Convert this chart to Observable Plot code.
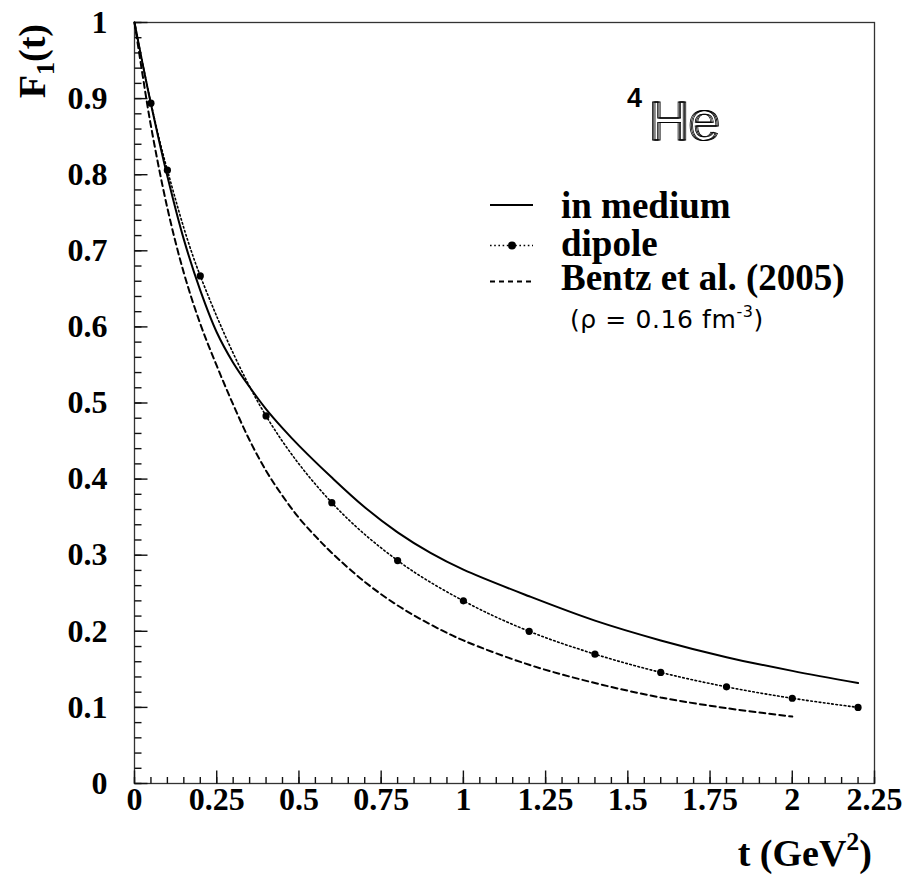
<!DOCTYPE html>
<html><head><meta charset="utf-8">
<script src="https://cdn.jsdelivr.net/npm/d3@7"></script>
<script src="https://cdn.jsdelivr.net/npm/@observablehq/plot@0.6"></script>
<style>body{margin:0;background:#fff} svg{display:block}</style>
</head><body><div id="chart"></div>
<script>
// ---- data ----
const inMediumT = [0, 0.025, 0.05, 0.1, 0.15, 0.2, 0.25, 0.3, 0.35, 0.4, 0.45, 0.5, 0.6, 0.7, 0.8, 0.9, 1.0, 1.2, 1.4, 1.6, 1.8, 2.0, 2.2];
const inMediumF = [1.0, 0.945, 0.893, 0.798, 0.715, 0.648, 0.593, 0.553, 0.521, 0.492, 0.467, 0.444, 0.402, 0.363, 0.330, 0.303, 0.281, 0.246, 0.214, 0.188, 0.166, 0.148, 0.132];

const dipoleT = [0, 0.05, 0.1, 0.2, 0.4, 0.6, 0.8, 1.0, 1.2, 1.4, 1.6, 1.8, 2.0, 2.2];
const dipoleF = [1.0, 0.894, 0.806, 0.667, 0.483, 0.369, 0.293, 0.240, 0.200, 0.170, 0.146, 0.127, 0.112, 0.100];

const bentzT = [0, 0.025, 0.05, 0.1, 0.15, 0.2, 0.25, 0.3, 0.35, 0.4, 0.45, 0.5, 0.55, 0.6, 0.7, 0.8, 0.9, 1.0, 1.2, 1.4, 1.6, 1.8, 2.0];
const bentzF = [1.0, 0.930, 0.864, 0.756, 0.671, 0.604, 0.549, 0.498, 0.451, 0.411, 0.378, 0.349, 0.325, 0.303, 0.265, 0.234, 0.209, 0.188, 0.156, 0.132, 0.113, 0.099, 0.088];

const xTicks = [0, 0.25, 0.5, 0.75, 1, 1.25, 1.5, 1.75, 2, 2.25];
const xTickLabels = ["0", "0.25", "0.5", "0.75", "1", "1.25", "1.5", "1.75", "2", "2.25"];
const yTicks = [0, 0.1, 0.2, 0.3, 0.4, 0.5, 0.6, 0.7, 0.8, 0.9, 1];
const yTickLabels = ["0", "0.1", "0.2", "0.3", "0.4", "0.5", "0.6", "0.7", "0.8", "0.9", "1"];
const xMinor = d3.range(0, 2.2501, 0.05);
const yMinor = d3.range(0, 1.0001, 0.02);

const legendLabels = ["in medium", "dipole", "Bentz et al. (2005)"];

// ---- build tables ----
const inMedium = inMediumT.map((t, i) => ({t, f: inMediumF[i]}));
const dipole = dipoleT.map((t, i) => ({t, f: dipoleF[i]}));
const bentz = bentzT.map((t, i) => ({t, f: bentzF[i]}));

const W = 909, H = 877;
const mL = 134, mR = 35, mT = 22, mB = 94;
const innerW = W - mL - mR, innerH = H - mT - mB;
const xMax = 2.25, yMax = 1;
const serif = "'Liberation Serif', 'Times New Roman', serif";
const sans = "'Liberation Sans', Arial, sans-serif";

// tick lengths (pixels) expressed in data units
const lenY = (px) => px / innerH * yMax;
const lenX = (px) => px / innerW * xMax;
const tickStyle = {stroke: "#111", strokeWidth: 1.4, strokeOpacity: 1};

const svg = Plot.plot({
  width: W, height: H,
  marginLeft: mL, marginRight: mR, marginTop: mT, marginBottom: mB,
  style: {fontFamily: serif, fontWeight: "bold", fontSize: "32px", color: "#000", background: "#fff"},
  x: {domain: [0, xMax]},
  y: {domain: [0, yMax]},
  marks: [
    Plot.frame({stroke: "#333", strokeWidth: 1.3}),
    Plot.link(xMinor, {x1: d => d, x2: d => d, y1: () => 0, y2: () => lenY(6.5), ...tickStyle}),
    Plot.link(xTicks, {x1: d => d, x2: d => d, y1: () => 0, y2: () => lenY(13), ...tickStyle}),
    Plot.link(yMinor, {y1: d => d, y2: d => d, x1: () => 0, x2: () => lenX(7), ...tickStyle}),
    Plot.link(yTicks, {y1: d => d, y2: d => d, x1: () => 0, x2: () => lenX(13), ...tickStyle}),
    Plot.axisX(xTicks, {tickSize: 0, tickPadding: 4, label: null,
      tickFormat: d => xTickLabels[xTicks.indexOf(d)], fontSize: 32, fontWeight: "bold", fontFamily: serif}),
    Plot.axisY(yTicks, {tickSize: 0, tickPadding: 27, label: null,
      tickFormat: d => yTickLabels[yTicks.indexOf(d)], fontSize: 32, fontWeight: "bold", fontFamily: serif}),
    // curves
    Plot.line(bentz, {x: "t", y: "f", stroke: "#000", strokeWidth: 2, strokeDasharray: "6 4", curve: "catmull-rom"}),
    Plot.line(dipole, {x: "t", y: "f", stroke: "#000", strokeWidth: 1.6, strokeDasharray: "1.6 2.6", curve: "catmull-rom"}),
    Plot.dot(dipole.filter(d => d.t > 0), {x: "t", y: "f", r: 3.6, fill: "#000", stroke: "none"}),
    Plot.line(inMedium, {x: "t", y: "f", stroke: "#000", strokeWidth: 2, curve: "catmull-rom"})
  ]
});

document.getElementById("chart").appendChild(svg);
const g = d3.select(svg);

// y-axis title F1(t)
const yt = g.append("text")
  .attr("transform", "translate(45,24) rotate(-90)")
  .attr("text-anchor", "end")
  .attr("font-family", serif).attr("font-weight", "bold").attr("font-size", 38);
yt.append("tspan").text("F");
yt.append("tspan").attr("font-size", 26).attr("dy", 9).text("1");
yt.append("tspan").attr("dy", -9).text("(t)");

// x-axis title t (GeV^2)
const xt = g.append("text")
  .attr("x", 872).attr("y", 866)
  .attr("text-anchor", "end")
  .attr("font-family", serif).attr("font-weight", "bold").attr("font-size", 38);
xt.append("tspan").text("t (GeV");
xt.append("tspan").attr("font-size", 26).attr("dy", -16).text("2");
xt.append("tspan").attr("dy", 16).text(")");

// 4He label (hatched outline look)
g.append("text").attr("x", 627).attr("y", 107).attr("text-anchor", "start")
  .attr("font-family", sans).attr("font-weight", "bold").attr("font-size", 27)
  .attr("fill", "#000").text("4");
[0, 1.3, 2.6].forEach(o => {
  g.append("text").attr("x", 648 + o).attr("y", 140).attr("text-anchor", "start")
    .attr("font-family", sans).attr("font-weight", "normal").attr("font-size", 55)
    .attr("fill", "none").attr("stroke", "#000").attr("stroke-width", 0.8).text("He");
});

// legend
const legY = [205, 245.5, 281.5];
const legBase = [217.5, 255.5, 289.5];
const styles = [
  {dash: null, w: 2},
  {dash: "1.6 2.6", w: 1.6},
  {dash: "5 4", w: 2}
];
legendLabels.forEach((lab, i) => {
  const ln = g.append("line").attr("x1", 490).attr("x2", 533)
    .attr("y1", legY[i]).attr("y2", legY[i])
    .attr("stroke", "#000").attr("stroke-width", styles[i].w);
  if (styles[i].dash) ln.attr("stroke-dasharray", styles[i].dash);
  if (i === 1) g.append("circle").attr("cx", 512).attr("cy", legY[i]).attr("r", 4).attr("fill", "#000");
  g.append("text").attr("x", 561).attr("y", legBase[i]).attr("text-anchor", "start")
    .attr("font-family", serif).attr("font-weight", "bold").attr("font-size", 37)
    .attr("fill", "#000").text(lab);
});
const rho = g.append("text").attr("x", 570).attr("y", 328).attr("text-anchor", "start")
  .attr("font-family", "'DejaVu Sans', sans-serif").attr("font-weight", "normal").attr("font-size", 25)
  .attr("letter-spacing", 0.6).attr("fill", "#000");
rho.append("tspan").text("(ρ = 0.16 fm");
rho.append("tspan").attr("font-size", 16).attr("dy", -11).text("-3");
rho.append("tspan").attr("dy", 11).text(")");
</script>
</body></html>
